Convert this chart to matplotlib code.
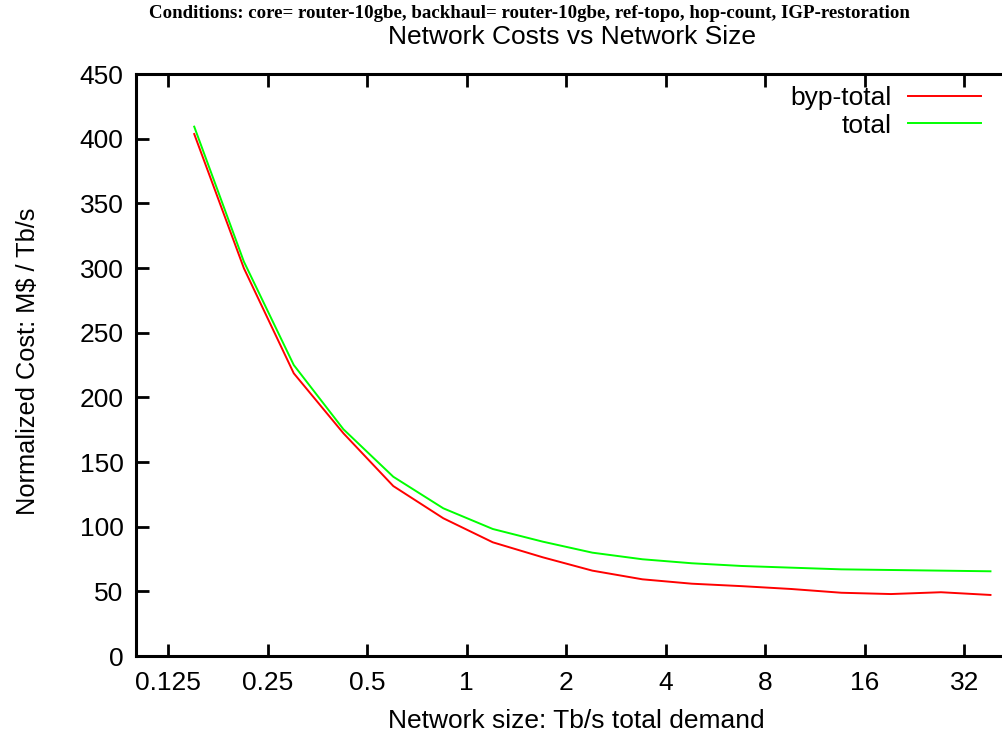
import matplotlib
matplotlib.use("Agg")
import matplotlib.pyplot as plt
from matplotlib.ticker import FixedLocator, FixedFormatter, NullLocator

demand = [0.15, 0.212, 0.3, 0.424, 0.6, 0.85, 1.2, 1.7, 2.4, 3.4, 4.8, 6.8, 9.6, 13.6, 19.2, 27.2, 38.4]
byp_total = [403.6, 299.8, 218.6, 172.2, 131.4, 106.5, 87.9, 76.3, 66.0, 59.3, 55.9, 54.0, 51.8, 48.9, 47.9, 49.3, 47.2]
total = [409.3, 304.9, 225.0, 175.3, 138.6, 114.2, 98.2, 88.4, 79.9, 74.8, 71.7, 69.6, 68.3, 67.0, 66.5, 66.0, 65.5]

xticks = [0.125, 0.25, 0.5, 1, 2, 4, 8, 16, 32]
xticklabels = ["0.125", "0.25", "0.5", "1", "2", "4", "8", "16", "32"]
yticks = [0, 50, 100, 150, 200, 250, 300, 350, 400, 450]

subtitle = "Conditions: core= router-10gbe, backhaul= router-10gbe, ref-topo, hop-count, IGP-restoration"
title = "Network Costs vs Network Size"
xlabel = "Network size: Tb/s total demand"
ylabel = "Normalized Cost: M$ / Tb/s"

plt.rcParams['font.family'] = ['Liberation Sans', 'DejaVu Sans']

W, H = 1003, 733
fig = plt.figure(figsize=(W / 100, H / 100), dpi=100)
ax = fig.add_axes([136 / W, 77 / H, 1 - 136 / W, (656 - 74) / H])

ax.plot(demand, byp_total, color="#ff0000", lw=1.4, label="byp-total")
ax.plot(demand, total, color="#00ff00", lw=1.4, label="total")

ax.set_xscale("log", base=2)
ax.set_xlim(0.1, 41.9)
ax.set_ylim(0, 450)
ax.xaxis.set_major_locator(FixedLocator(xticks))
ax.xaxis.set_major_formatter(FixedFormatter(xticklabels))
ax.xaxis.set_minor_locator(NullLocator())
ax.set_yticks(yticks)

for s in ["left", "bottom", "top"]:
    ax.spines[s].set_linewidth(2.2)
ax.spines["right"].set_visible(False)
ax.tick_params(axis="x", which="major", direction="in", length=9, width=2, top=True,
               labelsize=19, pad=11)
ax.tick_params(axis="y", which="major", direction="in", length=9, width=2, right=False,
               labelsize=19, pad=9)

ax_w = W - 136
leg = ax.legend(loc="upper right", frameon=False, markerfirst=False, fontsize=19,
                handlelength=2.77, handletextpad=0.6, labelspacing=0.12,
                borderaxespad=0.0, borderpad=0.0,
                bbox_to_anchor=((981 - 136) / ax_w, (656 - 86.5) / 582))

fig.text(529 / W, 1 - 14 / H, subtitle, ha="center", va="center",
         family="Liberation Serif", fontweight="bold", fontsize=13.6)
fig.text(572 / W, 1 - 37 / H, title, ha="center", va="center", fontsize=19)
fig.text(576 / W, 1 - 721 / H, xlabel, ha="center", va="center", fontsize=19)
fig.text(28 / W, 1 - 361 / H, ylabel, ha="center", va="center", rotation=90, fontsize=18.3)

fig.savefig("out.png", dpi=100)
